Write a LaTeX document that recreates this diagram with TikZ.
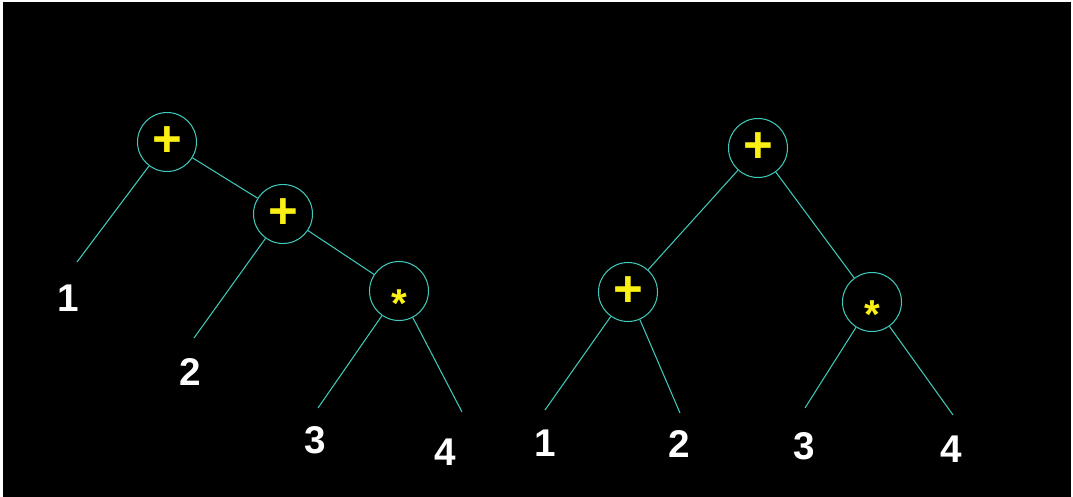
\documentclass[tikz,border=0pt]{standalone}
\usepackage{fontspec}
\setmainfont{Liberation Sans}
\definecolor{edgecyan}{RGB}{64,200,186}
\definecolor{opyellow}{RGB}{250,240,20}
\newcommand{\mulsign}{\raisebox{-15pt}[0pt][0pt]{\fontsize{23}{26}\selectfont*}}
\tikzset{
    op/.style={circle, draw=edgecyan, line width=0.6pt, inner sep=0pt, minimum size=1.18cm,
        text=opyellow, font=\fontsize{29}{32}\selectfont\bfseries},
    leaf/.style={inner sep=0pt, text=white, font=\fontsize{22}{26}\selectfont\bfseries},
    edge/.style={draw=edgecyan, line width=0.6pt}
}
\begin{document}
\begin{tikzpicture}[x=0.02cm, y=-0.02cm]
    \fill[white] (0,0) rectangle (1073,497);
    \fill[black] (3,2) rectangle (1071,497);
    \useasboundingbox (0,0) rectangle (1073,497);
    % left tree
    \node[op] (lp1) at (167,142) {+};
    \node[op] (lp2) at (283,214) {+};
    \node[op] (lm) at (399,291) {\mulsign};
    \coordinate (le1) at (77,262);
    \coordinate (le2) at (194,338);
    \coordinate (le3) at (318,408);
    \coordinate (le4) at (462,412);
    \node[leaf] (l1) at (68,298) {1};
    \node[leaf] (l2) at (190,372) {2};
    \node[leaf] (l3) at (315,440) {3};
    \node[leaf] (l4) at (445,452) {4};
    \draw[edge] (lp1) -- (le1);
    \draw[edge] (lp1) -- (lp2);
    \draw[edge] (lp2) -- (le2);
    \draw[edge] (lp2) -- (lm);
    \draw[edge] (lm) -- (le3);
    \draw[edge] (lm) -- (le4);
    % right tree
    \node[op] (rp1) at (758,148) {+};
    \node[op] (rp2) at (628,292) {+};
    \node[op] (rm) at (872,302) {\mulsign};
    \coordinate (re1) at (545,410);
    \coordinate (re2) at (680,413);
    \coordinate (re3) at (805,408);
    \coordinate (re4) at (953,415);
    \node[leaf] (r1) at (545,443) {1};
    \node[leaf] (r2) at (679,444) {2};
    \node[leaf] (r3) at (804,446) {3};
    \node[leaf] (r4) at (951,449) {4};
    \draw[edge] (rp1) -- (rp2);
    \draw[edge] (rp1) -- (rm);
    \draw[edge] (rp2) -- (re1);
    \draw[edge] (rp2) -- (re2);
    \draw[edge] (rm) -- (re3);
    \draw[edge] (rm) -- (re4);
\end{tikzpicture}
\end{document}
